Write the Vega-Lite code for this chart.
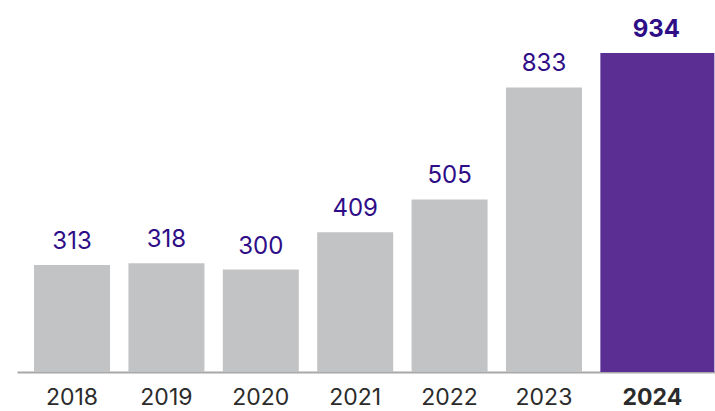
{
  "$schema": "https://vega.github.io/schema/vega-lite/v6.json",
  "width": 698,
  "height": 372,
  "autosize": {"type": "none"},
  "padding": {"left": 17, "top": 0, "right": 0, "bottom": 39},
  "background": "white",
  "config": {"view": {"stroke": null}},
  "data": {
    "values": [
      {"year": "2018", "value": 313},
      {"year": "2019", "value": 318},
      {"year": "2020", "value": 300},
      {"year": "2021", "value": 409},
      {"year": "2022", "value": 505},
      {"year": "2023", "value": 833},
      {"year": "2024", "value": 934}
    ]
  },
  "encoding": {
    "x": {
      "field": "year",
      "type": "ordinal",
      "scale": {"paddingInner": 0.195, "paddingOuter": 0.295, "align": 0.306},
      "axis": {
        "title": null,
        "ticks": false,
        "labelAngle": 0,
        "labelFont": "Inter",
        "labelFontSize": 23,
        "labelColor": "#2b2b2b",
        "labelFontWeight": {"condition": {"test": "datum.value == '2024'", "value": "bold"}, "value": "normal"},
        "labelOffset": {"condition": {"test": "datum.value == '2024'", "value": 14}, "value": 0},
        "labelBaseline": "alphabetic",
        "labelPadding": 32,
        "domainColor": "#a8a8a8",
        "domainWidth": 2
      }
    },
    "y": {
      "field": "value",
      "type": "quantitative",
      "scale": {"domain": [0, 1089], "nice": false},
      "axis": null
    }
  },
  "layer": [
    {
      "transform": [{"filter": "datum.year != '2024'"}],
      "mark": {"type": "bar", "color": "#c2c3c5", "width": 76}
    },
    {
      "transform": [{"filter": "datum.year == '2024'"}],
      "mark": {"type": "bar", "color": "#5a2e93", "width": 114, "xOffset": 19}
    },
    {
      "transform": [{"filter": "datum.year != '2024'"}],
      "mark": {"type": "text", "font": "Inter", "fontSize": 24, "color": "#2e0d87", "baseline": "alphabetic", "dy": -16},
      "encoding": {"text": {"field": "value", "type": "quantitative"}}
    },
    {
      "transform": [{"filter": "datum.year == '2024'"}],
      "mark": {"type": "text", "font": "Inter", "fontSize": 24, "fontWeight": "bold", "color": "#2e0d87", "baseline": "alphabetic", "dy": -16, "xOffset": 18},
      "encoding": {"text": {"field": "value", "type": "quantitative"}}
    }
  ]
}
